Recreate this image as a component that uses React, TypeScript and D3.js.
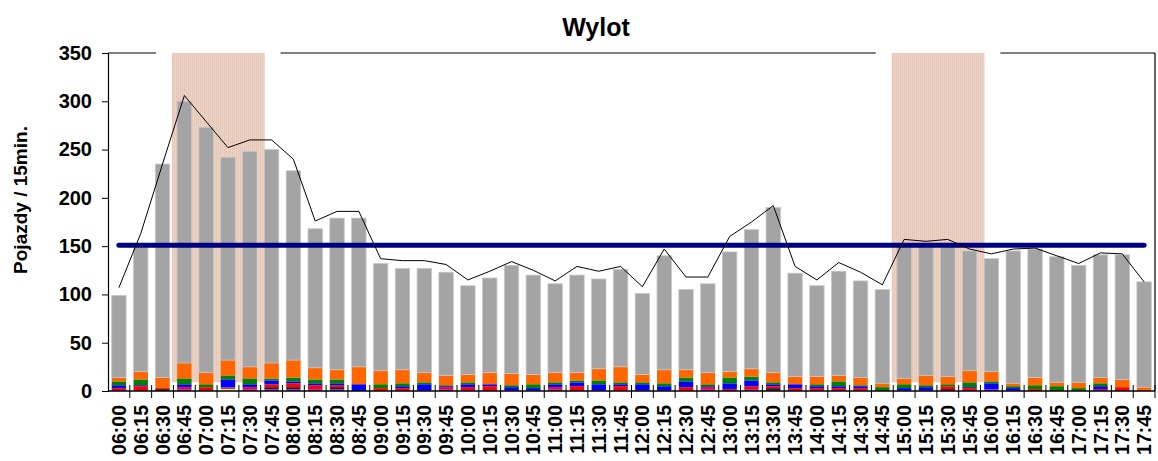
import React from "react";
import * as d3 from "d3";

const WIDTH = 1158;
const HEIGHT = 461;
const MARGINS = { top: 53, right: 3, bottom: 70, left: 108 };

const times = [
  "06:00", "06:15", "06:30", "06:45", "07:00", "07:15", "07:30", "07:45",
  "08:00", "08:15", "08:30", "08:45", "09:00", "09:15", "09:30", "09:45",
  "10:00", "10:15", "10:30", "10:45", "11:00", "11:15", "11:30", "11:45",
  "12:00", "12:15", "12:30", "12:45", "13:00", "13:15", "13:30", "13:45",
  "14:00", "14:15", "14:30", "14:45", "15:00", "15:15", "15:30", "15:45",
  "16:00", "16:15", "16:30", "16:45", "17:00", "17:15", "17:30", "17:45",
];

// bar tops (whole stack)
const totals = [
  99, 151, 235, 300, 273, 242, 248, 250, 228, 168, 179, 179,
  132, 127, 127, 123, 109, 117, 130, 120, 111, 120, 116, 126,
  101, 140, 105, 111, 144, 167, 190, 122, 109, 124, 114, 105,
  153, 153, 153, 145, 137, 145, 147, 139, 130, 141, 141, 113,
];

// small vehicle classes at the bottom of each bar
const yellow = [
  0, 0, 0, 0, 0, 2, 0, 0, 0, 0, 0, 0,
  0, 0, 0, 0, 0, 0, 0, 0, 0, 0, 0, 0,
  0, 0, 0, 0, 0, 0, 0, 0, 0, 0, 0, 0,
  0, 0, 0, 0, 0, 0, 0, 0, 0, 0, 0, 0,
];
const purple = [
  1, 1, 0, 2, 1, 2, 2, 2, 2, 2, 2, 0,
  0, 1, 1, 2, 1, 1, 1, 1, 2, 1, 1, 1,
  1, 1, 0, 2, 0, 2, 1, 1, 1, 1, 1, 1,
  1, 1, 1, 1, 2, 1, 0, 0, 1, 1, 1, 0,
];
const black = [
  0, 0, 2, 0, 0, 0, 0, 2, 2, 0, 2, 0,
  0, 0, 0, 0, 0, 0, 0, 0, 0, 0, 0, 0,
  0, 0, 0, 0, 0, 0, 2, 0, 0, 0, 0, 0,
  0, 0, 1, 0, 0, 0, 0, 0, 0, 0, 0, 0,
];
const red = [
  2, 4, 1, 2, 3, 0, 2, 3, 4, 4, 2, 0,
  3, 2, 0, 2, 3, 4, 0, 0, 2, 4, 0, 4,
  0, 0, 4, 2, 2, 3, 2, 2, 2, 2, 2, 0,
  0, 0, 3, 2, 0, 0, 2, 1, 0, 1, 3, 0,
];
const blue = [
  3, 1, 0, 3, 0, 8, 3, 4, 2, 2, 2, 7,
  0, 2, 6, 1, 3, 2, 3, 2, 3, 4, 6, 2,
  6, 4, 6, 1, 6, 6, 2, 4, 2, 2, 2, 0,
  2, 3, 0, 1, 6, 2, 0, 0, 0, 3, 0, 0,
];
const green = [
  4, 6, 0, 6, 3, 4, 6, 2, 4, 4, 4, 0,
  4, 3, 2, 1, 2, 0, 2, 4, 2, 2, 4, 2,
  2, 3, 4, 2, 6, 4, 2, 0, 2, 5, 1, 3,
  4, 2, 2, 5, 2, 2, 4, 4, 2, 3, 0, 0,
];
const orange = [
  4, 8, 11, 16, 12, 16, 12, 16, 18, 12, 10, 18,
  14, 14, 10, 10, 8, 12, 12, 10, 10, 8, 12, 16,
  8, 14, 8, 12, 6, 8, 10, 8, 8, 6, 8, 4,
  6, 10, 8, 12, 10, 3, 8, 4, 6, 6, 8, 4,
];

// thin black line
const lineValues = [
  107, 163, 235, 306, 279, 252, 260, 260, 240, 176, 186, 186,
  137, 135, 135, 131, 115, 124, 134, 125, 114, 129, 124, 129,
  108, 147, 118, 118, 160, 175, 192, 129, 115, 133, 123, 110,
  157, 155, 157, 147, 142, 147, 148, 140, 132, 143, 142, 113,
];

const capacity = 151;
const peakStarts = ["06:45", "15:00"];
const yTicks = [0, 50, 100, 150, 200, 250, 300, 350];

const classes = [
  { key: "yellow", values: yellow, color: "#ffff00" },
  { key: "purple", values: purple, color: "#9933cc" },
  { key: "black", values: black, color: "#222222" },
  { key: "red", values: red, color: "#ff0000" },
  { key: "blue", values: blue, color: "#0000ff" },
  { key: "green", values: green, color: "#008000" },
  { key: "orange", values: orange, color: "#ff6600" },
];

const FONT = "'Liberation Sans', Arial, sans-serif";

const App = () => {
  const ref = React.useRef<SVGSVGElement>(null);

  React.useEffect(() => {
    const svg = d3.select(ref.current!);
    svg.selectAll("*").remove();

    const x0 = MARGINS.left;
    const x1 = WIDTH - MARGINS.right;
    const yBottom = HEIGHT - MARGINS.bottom;

    const x = d3
      .scaleBand<string>()
      .domain(times)
      .range([x0, x1])
      .paddingInner(0.34)
      .paddingOuter(0.17);
    const step = x.step();
    const bw = x.bandwidth();
    const cx = (t: string) => x(t)! + bw / 2;
    const bandStart = (t: string) => cx(t) - step / 2;

    const y = d3.scaleLinear().domain([0, 350]).range([yBottom, MARGINS.top]);

    const defs = svg.append("defs");
    const pat = defs
      .append("pattern")
      .attr("id", "peak")
      .attr("patternUnits", "userSpaceOnUse")
      .attr("width", 4)
      .attr("height", 2);
    pat.append("rect").attr("width", 4).attr("height", 2).attr("fill", "#ecd2c4");
    pat.append("rect").attr("x", 0).attr("y", 0).attr("width", 1).attr("height", 1).attr("fill", "#e0bcaa");
    pat.append("rect").attr("x", 2).attr("y", 1).attr("width", 1).attr("height", 1).attr("fill", "#e4c2b1");

    // peak hour shading
    const shades = peakStarts.map((t) => {
      const s = bandStart(t) - 1.5;
      return { s, e: s + step * 4.25 };
    });
    svg
      .append("g")
      .selectAll("rect")
      .data(shades)
      .enter()
      .append("rect")
      .attr("x", (d) => d.s)
      .attr("y", y(350))
      .attr("width", (d) => d.e - d.s)
      .attr("height", y(9) - y(350))
      .attr("fill", "url(#peak)");

    // stacked bars
    const rows = times.map((t, i) => {
      const r: any = { t };
      let sum = 0;
      classes.forEach((c) => {
        r[c.key] = c.values[i];
        sum += c.values[i];
      });
      r.gray = totals[i] - sum;
      return r;
    });
    const keys = [...classes.map((c) => c.key), "gray"];
    const colors: Record<string, string> = { gray: "#a4a4a4" };
    classes.forEach((c) => (colors[c.key] = c.color));
    const stacked = d3.stack<any>().keys(keys)(rows);

    const barsG = svg.append("g");
    stacked.forEach((layer) => {
      barsG
        .append("g")
        .selectAll("rect")
        .data(layer.filter((d) => d[1] - d[0] > 0))
        .enter()
        .append("rect")
        .attr("x", (d) => x(d.data.t)!)
        .attr("width", bw)
        .attr("y", (d) => y(d[1]))
        .attr("height", (d) => y(d[0]) - y(d[1]))
        .attr("fill", colors[layer.key])
        .attr("stroke", layer.key === "gray" ? "#c6c6c6" : "none")
        .attr("stroke-width", 0.8);
    });

    // capacity line
    svg
      .append("line")
      .attr("x1", cx(times[0]))
      .attr("x2", cx(times[times.length - 1]))
      .attr("y1", y(capacity))
      .attr("y2", y(capacity))
      .attr("stroke", "#000080")
      .attr("stroke-width", 5)
      .attr("stroke-linecap", "round");

    // black line
    const line = d3
      .line<number>()
      .x((_, i) => cx(times[i]))
      .y((d) => y(d));
    svg
      .append("path")
      .attr("d", line(lineValues)!)
      .attr("fill", "none")
      .attr("stroke", "#000")
      .attr("stroke-width", 1);

    // frame: top with gaps around the shading, right side
    const edges = [x0, ...shades.flatMap((s) => [s.s - 16, s.e + 16]), x1];
    const frame = svg.append("g").attr("stroke", "#000").attr("stroke-width", 1.2);
    for (let i = 0; i < edges.length; i += 2) {
      frame
        .append("line")
        .attr("x1", edges[i])
        .attr("x2", edges[i + 1])
        .attr("y1", y(350))
        .attr("y2", y(350));
    }
    frame
      .append("line")
      .attr("x1", x1)
      .attr("x2", x1)
      .attr("y1", y(350))
      .attr("y2", yBottom);

    // y axis
    const yAxis = d3.axisLeft(y).tickValues(yTicks).tickSize(6).tickPadding(10);
    const yg = svg
      .append("g")
      .attr("transform", `translate(${x0}, 0)`)
      .call(yAxis);
    yg.select(".domain").attr("stroke", "#000").attr("stroke-width", 1.2);
    yg.selectAll("text")
      .attr("font-family", FONT)
      .attr("font-weight", "bold")
      .attr("font-size", 20)
      .attr("fill", "#000");

    // x axis
    const xg = svg.append("g");
    xg.append("line")
      .attr("x1", x0)
      .attr("x2", x1)
      .attr("y1", yBottom)
      .attr("y2", yBottom)
      .attr("stroke", "#000")
      .attr("stroke-width", 1.5);
    xg.selectAll("line.tick")
      .data(times)
      .enter()
      .append("line")
      .attr("class", "tick")
      .attr("x1", (t) => bandStart(t) + step)
      .attr("x2", (t) => bandStart(t) + step)
      .attr("y1", yBottom - 6)
      .attr("y2", yBottom + 7)
      .attr("stroke", "#000");
    xg.selectAll("text")
      .data(times)
      .enter()
      .append("text")
      .attr("transform", (t) => `translate(${cx(t)}, ${yBottom + 14}) rotate(-90)`)
      .attr("text-anchor", "end")
      .attr("dy", "0.36em")
      .attr("font-family", FONT)
      .attr("font-weight", "bold")
      .attr("font-size", 19.5)
      .text((t) => t);

    // titles
    svg
      .append("text")
      .attr("x", 596)
      .attr("y", 36)
      .attr("text-anchor", "middle")
      .attr("font-family", FONT)
      .attr("font-weight", "bold")
      .attr("font-size", 25)
      .text("Wylot");
    svg
      .append("text")
      .attr("transform", `translate(27, 200) rotate(-90)`)
      .attr("text-anchor", "middle")
      .attr("font-family", FONT)
      .attr("font-weight", "bold")
      .attr("font-size", 19)
      .text("Pojazdy / 15min.");
  }, []);

  return (
    <svg
      ref={ref}
      width={WIDTH}
      height={HEIGHT}
      style={{ position: "absolute", left: 0, top: 0, background: "#fff" }}
    />
  );
};

export default App;
